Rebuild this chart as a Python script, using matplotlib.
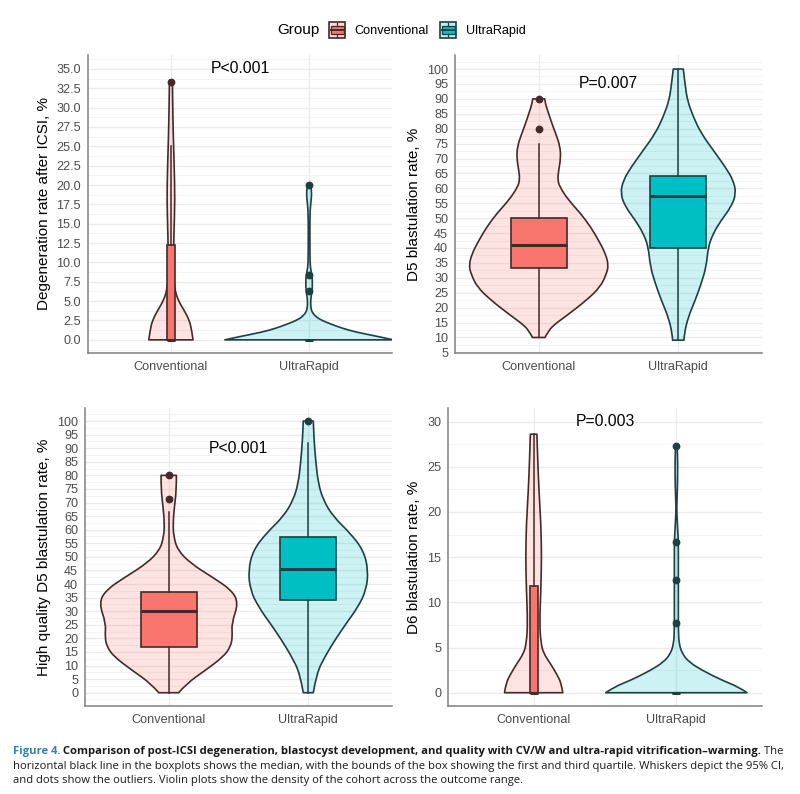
import numpy as np
import matplotlib
matplotlib.use('Agg')
import matplotlib.pyplot as plt
from matplotlib.colors import to_rgba
from matplotlib.patches import Rectangle, PathPatch
from matplotlib.path import Path
from matplotlib.lines import Line2D
from matplotlib.legend_handler import HandlerBase

plt.rcParams['font.family'] = ['Liberation Sans', 'DejaVu Sans']

GROUPS = ['Conventional', 'UltraRapid']
Y_LABELS = ['Degeneration rate after ICSI, %', 'D5 blastulation rate, %',
            'High quality D5 blastulation rate, %', 'D6 blastulation rate, %']
P_LABELS = ['P<0.001', 'P=0.007', 'P<0.001', 'P=0.003']
P_Y = [35, 95, 90, 30]

# violin outlines: y value, relative density
V1_CONV_Y = [0, 1.25, 2.55, 3.84, 5.1, 6.4, 8.6, 13.75, 18.1, 22.4, 26.7, 31, 33.3]
V1_CONV_D = [22, 20.7, 18.3, 13, 7.3, 4, 2.3, 3, 4, 3.3, 2.3, 1.7, 1.5]
V1_ULTRA_Y = [0, 0.4, 0.99, 1.5, 2.07, 2.5, 2.93, 3.4, 3.8, 4.5, 5.5, 6.2, 7.3, 8.3,
              9.0, 9.8, 12, 16, 17.5, 18.5, 19.5, 20]
V1_ULTRA_D = [84, 70, 47, 33, 21, 13, 7.3, 4, 2.3, 1.5, 1.8, 3, 3.3, 3,
              1.8, 1, 0.8, 0.8, 1.5, 2.5, 2.3, 1.5]

V2_CONV_Y = [10, 12.4, 14.6, 17.4, 22.5, 27, 31.4, 34.2, 38.1, 42.6, 47.1, 51.6, 56,
             60.5, 63, 66, 70, 74, 78.4, 81, 85, 88.3, 90]
V2_CONV_D = [6.3, 10, 16.7, 28.3, 48, 62, 68, 70, 67, 60, 52, 42, 30,
             21, 19, 20, 22, 21.5, 17, 14, 10, 6.7, 6]
V2_ULTRA_Y = [9.1, 11.3, 16.9, 22.5, 28.1, 33.7, 40.4, 44.9, 49.3, 53.8, 58.3, 62.8,
              67.2, 72.8, 78.4, 84, 89.6, 95.2, 100]
V2_ULTRA_D = [5.7, 6, 10, 17, 23, 28, 30, 35, 43, 53, 58, 55,
              47, 35, 23, 15, 9, 6.7, 5]

V3_CONV_Y = [0, 3.4, 8.3, 13.3, 16.9, 20.6, 25.5, 33, 37.8, 42.7, 47.6, 52.5, 57.4,
             62.3, 68.5, 74.6, 80]
V3_CONV_D = [10, 18, 37, 55, 62, 64, 63, 70, 63, 43, 22, 9, 5,
             4.3, 5.7, 7.7, 7.7]
V3_ULTRA_Y = [0, 7.1, 13.3, 19.4, 25.5, 31.7, 37.8, 45.2, 52.5, 58.7, 64.8, 70.9,
              77.1, 84.4, 93, 100]
V3_ULTRA_D = [5, 8.3, 16.7, 26.7, 38, 50, 58, 60, 55, 42, 25, 15,
              10, 7.7, 5.7, 5]

V4_CONV_Y = [0, 1.03, 2.1, 3.2, 4.35, 5.5, 7.7, 11.4, 15.1, 18.7, 22.4, 26.1, 28.6]
V4_CONV_D = [29.3, 28, 23, 17, 10, 7.3, 6, 7.3, 8, 7.3, 5.3, 4, 3.3]
V4_ULTRA_Y = [0, 0.63, 1.37, 2.47, 3.4, 4.3, 5.4, 6.9, 10, 14, 16.7, 17.5, 19,
              20.4, 22, 24, 26, 27.3]
V4_ULTRA_D = [71, 62.7, 46, 26, 12.7, 6, 2.7, 2, 2, 2, 2, 1.6, 0.9,
              0.3, 0.9, 1.3, 1.3, 0.8]

# box stats: whisker low, Q1, median, Q3, whisker high
B1_CONV = [0, 0, 0, 12.2, 25]
B1_ULTRA = [0, 0, 0, 0, 0]
B2_CONV = [10, 33.4, 40.9, 50.1, 75]
B2_ULTRA = [9, 40.0, 57.4, 64.3, 100]
B3_CONV = [0, 16.7, 30.1, 37.2, 66.6]
B3_ULTRA = [0, 34.1, 45.5, 57.3, 91.8]
B4_CONV = [0, 0, 0, 11.85, 28.6]
B4_ULTRA = [0, 0, 0, 0, 0]

F1_CONV = [33.3]
F1_ULTRA = [6.25, 8.33, 20]
F2_CONV = [80, 90]
F2_ULTRA = []
F3_CONV = [71.4, 80]
F3_ULTRA = [100]
F4_CONV = []
F4_ULTRA = [7.7, 12.5, 16.7, 27.3]

CAPTION = [
    [('Figure 4.', 'fig'),
     (' Comparison of post-ICSI degeneration, blastocyst development, and quality with '
      'CV/W and ultra-rapid vitrification\u2013warming.', 'bold'),
     (' The', 'reg')],
    [('horizontal black line in the boxplots shows the median, with the bounds of the box '
      'showing the first and third quartile. Whiskers depict the 95% CI,', 'reg')],
    [('and dots show the outliers. Violin plots show the density of the cohort across '
      'the outcome range.', 'reg')],
]

# ---- styles ----
FILL = ['#F8766D', '#00BFC4']
DARK = ['#452a2a', '#1d4040']
GRID = '#EBEBEB'

W, H = 800, 794
fig = plt.figure(figsize=(W / 100, H / 100), dpi=100)


def px_axes(left, top, right, bottom):
    return fig.add_axes([left / W, 1 - bottom / H, (right - left) / W, (bottom - top) / H])


def smooth_side(pts):
    # quadratic bezier through the outline points (points act as control points)
    verts, codes = [], []
    n = len(pts)
    if n < 3:
        return [tuple(p) for p in pts[1:]], [Path.LINETO] * (n - 1)
    for i in range(1, n - 1):
        end = pts[i + 1] if i == n - 2 else (pts[i] + pts[i + 1]) / 2
        verts += [tuple(pts[i]), tuple(end)]
        codes += [Path.CURVE3, Path.CURVE3]
    return verts, codes


def draw_violin(ax, pos, vy, vd, half, fc, ec):
    vy = np.asarray(vy, float)
    w = np.asarray(vd, float) / max(vd) * half
    left = np.column_stack([pos - w, vy])
    right = np.column_stack([pos + w, vy])[::-1]
    verts, codes = [tuple(left[0])], [Path.MOVETO]
    v, c = smooth_side(left)
    verts += v
    codes += c
    verts.append(tuple(right[0]))
    codes.append(Path.LINETO)
    v, c = smooth_side(right)
    verts += v
    codes += c
    verts.append(tuple(left[0]))
    codes.append(Path.CLOSEPOLY)
    ax.add_patch(PathPatch(Path(verts, codes), fc=to_rgba(fc, 0.2), ec=ec, lw=1.2,
                           joinstyle='round', zorder=2))


panels = [
    dict(rect=(88, 55, 392, 353), ylim=(-1.7, 36.8), major=np.arange(0, 35.1, 2.5),
         fmt='{:.1f}', minor_step=1.25,
         violins=[(V1_CONV_Y, V1_CONV_D, 0.16), (V1_ULTRA_Y, V1_ULTRA_D, 0.61)],
         boxes=[(B1_CONV, F1_CONV, 0.026), (B1_ULTRA, F1_ULTRA, 0.026)]),
    dict(rect=(455, 55, 762, 353), ylim=(4.8, 104.7), major=np.arange(5, 100.1, 5),
         fmt='{:.0f}', minor_step=2.5,
         violins=[(V2_CONV_Y, V2_CONV_D, 0.50), (V2_ULTRA_Y, V2_ULTRA_D, 0.415)],
         boxes=[(B2_CONV, F2_CONV, 0.2), (B2_ULTRA, F2_ULTRA, 0.2)]),
    dict(rect=(85, 408, 392, 706), ylim=(-4.9, 104.8), major=np.arange(0, 100.1, 5),
         fmt='{:.0f}', minor_step=2.5,
         violins=[(V3_CONV_Y, V3_CONV_D, 0.50), (V3_ULTRA_Y, V3_ULTRA_D, 0.43)],
         boxes=[(B3_CONV, F3_CONV, 0.2), (B3_ULTRA, F3_ULTRA, 0.2)]),
    dict(rect=(448, 408, 762, 706), ylim=(-1.47, 31.5), major=np.arange(0, 30.1, 5),
         fmt='{:.0f}', minor_step=2.5,
         violins=[(V4_CONV_Y, V4_CONV_D, 0.204), (V4_ULTRA_Y, V4_ULTRA_D, 0.495)],
         boxes=[(B4_CONV, F4_CONV, 0.028), (B4_ULTRA, F4_ULTRA, 0.028)]),
]

for k, p in enumerate(panels):
    ax = px_axes(*p['rect'])
    ax.set_xlim(0.4, 2.6)
    ax.set_ylim(*p['ylim'])

    # grid
    ax.set_yticks(p['major'])
    ax.set_yticklabels([p['fmt'].format(v) for v in p['major']])
    lo, hi = p['ylim']
    minors = np.arange(p['major'][0] - p['minor_step'], hi, p['minor_step'] * 2)
    ax.set_yticks(minors[(minors > lo) & (minors < hi)], minor=True)
    ax.set_xticks([1, 2])
    ax.set_xticklabels(GROUPS)
    ax.grid(which='major', color=GRID, lw=1.0, zorder=0)
    ax.grid(which='minor', axis='y', color='#F3F3F3', lw=0.7, zorder=0)
    ax.set_axisbelow(True)
    ax.tick_params(which='both', length=0, labelsize=9.1, colors='#4D4D4D')
    ax.tick_params(axis='y', pad=5)
    ax.tick_params(axis='x', pad=6)
    for s in ['top', 'right']:
        ax.spines[s].set_visible(False)
    for s in ['left', 'bottom']:
        ax.spines[s].set_color('#808080')
        ax.spines[s].set_linewidth(1.1)
    ax.set_ylabel(Y_LABELS[k], fontsize=11, color='black', labelpad=4)

    for g in range(2):
        pos = g + 1
        vy, vd, half = p['violins'][g]
        draw_violin(ax, pos, vy, vd, half, FILL[g], DARK[g])

        st, fl, bw = p['boxes'][g]
        stats = [dict(whislo=st[0], q1=st[1], med=st[2], q3=st[3], whishi=st[4],
                      fliers=fl)]
        ax.bxp(stats, positions=[pos], widths=2 * bw, patch_artist=True,
               showcaps=False, manage_ticks=False, zorder=3,
               boxprops=dict(facecolor=FILL[g], edgecolor=DARK[g], lw=1.2),
               medianprops=dict(color=DARK[g], lw=2.2, solid_capstyle='butt'),
               whiskerprops=dict(color=DARK[g], lw=1.1),
               flierprops=dict(marker='o', markerfacecolor=DARK[g],
                               markeredgecolor=DARK[g], markersize=4.6))

    ax.text(1.5, P_Y[k], P_LABELS[k], ha='center', va='center', fontsize=11.3,
            color='black', zorder=5)


# ---- legend ----
class BoxKey(HandlerBase):
    def create_artists(self, legend, orig_handle, xd, yd, width, height, fontsize, trans):
        fc, ec = orig_handle
        s = height
        x0 = -xd + (width - s) / 2
        y0 = -yd
        outer = Rectangle((x0, y0), s, s, fc=to_rgba(fc, 0.25), ec=ec, lw=1.2,
                          transform=trans)
        inner = Rectangle((x0 + 0.1 * s, y0 + 0.25 * s), 0.8 * s, 0.5 * s, fc=fc,
                          ec=ec, lw=0.9, transform=trans)
        med = Line2D([x0 + 0.1 * s, x0 + 0.9 * s], [y0 + 0.5 * s] * 2, color=ec,
                     lw=1.4, transform=trans)
        wlo = Line2D([x0 + 0.5 * s] * 2, [y0 + 0.08 * s, y0 + 0.25 * s], color=ec,
                     lw=0.9, transform=trans)
        whi = Line2D([x0 + 0.5 * s] * 2, [y0 + 0.75 * s, y0 + 0.92 * s], color=ec,
                     lw=0.9, transform=trans)
        return [outer, inner, med, wlo, whi]


fig.text(277 / W, 1 - 30 / H, 'Group', fontsize=11, va='center', ha='left')
keys = [(FILL[0], DARK[0]), (FILL[1], DARK[1])]
fig.legend(keys, GROUPS, handler_map={tuple: BoxKey()}, loc='center left',
           bbox_to_anchor=(327 / W, 1 - 30 / H), ncol=2, frameon=False,
           fontsize=9.1, handlelength=1.6, handleheight=1.6, handletextpad=0.6,
           columnspacing=0.7, borderpad=0, borderaxespad=0)

# ---- caption ----
CAP_FONT = ['Open Sans', 'DejaVu Sans']
styles = {'fig': dict(color='#3d7ea6', weight='bold'),
          'bold': dict(color='#1a1a1a', weight='bold'),
          'reg': dict(color='#1a1a1a', weight='normal')}
renderer = fig.canvas.get_renderer()


def line_width(runs, size):
    total = 0
    for txt, sty in runs:
        t = fig.text(0, 0, txt, fontsize=size, family=CAP_FONT, **styles[sty])
        total += t.get_window_extent(renderer).width
        t.remove()
    return total


# size the caption so the two full lines fit the page width of the original
cap_size = min(10 * (787 - 13) / line_width(CAPTION[0], 10),
               10 * (787 - 13) / line_width(CAPTION[1], 10))

for line, ypx in zip(CAPTION, [751.5, 766.5, 781]):
    x = 13 / W
    for txt, sty in line:
        t = fig.text(x, 1 - ypx / H, txt, fontsize=cap_size, family=CAP_FONT,
                     va='center', ha='left', **styles[sty])
        x += t.get_window_extent(renderer).width / W

fig.savefig('out.png', dpi=100)
